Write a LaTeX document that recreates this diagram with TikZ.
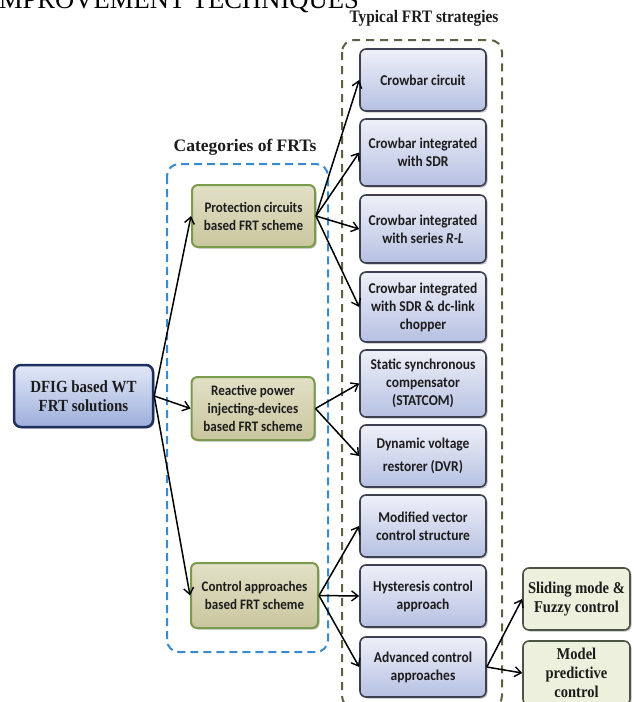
\documentclass[tikz,border=0pt]{standalone}
\usepackage{fontspec}
\usetikzlibrary{arrows.meta,shadows,calc}
\newfontfamily\calfam[FakeStretch=0.9]{Carlito}
\newfontfamily\tnrfam[FakeStretch=0.88]{Liberation Serif}
\newfontfamily\tnrplain{Liberation Serif}
\definecolor{rtop}{HTML}{EEF0F8}
\definecolor{rbot}{HTML}{B6C0E2}
\definecolor{rline}{HTML}{3E4052}
\definecolor{dtop}{HTML}{E2E8F7}
\definecolor{dbot}{HTML}{9DAEDB}
\definecolor{dline}{HTML}{1E2F5E}
\definecolor{ktop}{HTML}{E2E0C6}
\definecolor{kbot}{HTML}{C9C69E}
\definecolor{kline}{HTML}{7A9A4C}
\definecolor{gfill}{HTML}{EDF0DC}
\definecolor{gline}{HTML}{4E5444}
\definecolor{bdash}{HTML}{3A8AD0}
\definecolor{gdash}{HTML}{5C6242}
\definecolor{txt}{HTML}{1C1C1C}
\begin{document}
\begin{tikzpicture}[x=1pt,y=-1pt,
  shad/.style={drop shadow={shadow xshift=1.5pt,shadow yshift=-1.5pt,fill=black,opacity=0.25}},
  rbox/.style={shad,draw=rline,line width=1.6pt,rounded corners=6pt,top color=rtop,bottom color=rbot,
    minimum width=126pt,align=center,text=txt,inner sep=2pt,
    font=\calfam\bfseries\fontsize{15}{18}\selectfont},
  kbox/.style={shad,draw=kline,line width=2pt,rounded corners=6pt,top color=ktop,bottom color=kbot,
    minimum width=123pt,align=center,text=txt,inner sep=2pt,
    font=\calfam\bfseries\fontsize{14.5}{18}\selectfont},
  dbox/.style={shad,draw=dline,line width=2.5pt,rounded corners=7pt,top color=dtop,bottom color=dbot,
    minimum width=139pt,minimum height=62pt,align=center,text=txt,inner sep=2pt,
    font=\tnrfam\bfseries\fontsize{17}{19}\selectfont},
  gbox/.style={shad,draw=gline,line width=1.6pt,rounded corners=6pt,fill=gfill,
    minimum width=107pt,align=center,text=txt,inner sep=2pt,
    font=\tnrfam\bfseries\fontsize{16.5}{19}\selectfont},
  ttl/.style={font=\tnrfam\bfseries\fontsize{17.5}{20}\selectfont,text=txt,inner sep=0pt},
  arr/.style={-{Straight Barb[length=6.5pt,width=10pt,line width=1.4pt]},line width=1.5pt,black},
  bluedash/.style={draw=bdash,line width=2pt,dash pattern=on 8pt off 5pt,rounded corners=12pt},
  greendash/.style={draw=gdash,line width=2pt,dash pattern=on 8pt off 6pt,rounded corners=12pt}
]
\clip (0,0) rectangle (634,702);
\fill[white] (0,0) rectangle (634,702);

% cropped heading
\node[anchor=base west,inner sep=0pt,font=\tnrplain\fontsize{26.6}{30}\selectfont] (hdr) at (-10,8) {IMPROVEMENT TECHNIQUES};

% containers
\draw[bluedash] (167,164) rectangle (328,652);
\draw[greendash] (342,40) rectangle (502,708);
\node[ttl] (ttlR) at (424,18) {Typical FRT strategies};
\node[ttl,font=\tnrplain\bfseries\fontsize{17.5}{20}\selectfont] (ttlC) at (245,147) {Categories of FRTs};

% root
\node[dbox] (dfig) at (83.5,396) {DFIG based WT\\FRT solutions};

% categories
\node[kbox,minimum height=62pt] (pc) at (253.5,216) {Protection circuits\\based FRT scheme};
\node[kbox,minimum height=63pt] (rp) at (253,408.5) {Reactive power\\injecting-devices\\based FRT scheme};
\node[kbox,minimum width=127pt,minimum height=65pt] (ca) at (254.5,595.5) {Control approaches\\based FRT scheme};

% strategies
\node[rbox,minimum height=62pt] (c1) at (423,80) {Crowbar circuit};
\node[rbox,minimum height=67pt] (c2) at (423,152.5) {Crowbar integrated\\with SDR};
\node[rbox,minimum height=68pt] (c3) at (423,229) {Crowbar integrated\\with series \textit{R-L}};
\node[rbox,minimum height=70pt] (c4) at (423,307) {Crowbar integrated\\with SDR \& dc-link\\chopper};
\node[rbox,minimum height=67pt] (s1) at (423,383.5) {Static synchronous\\compensator\\(STATCOM)};
\node[rbox,minimum height=62pt,font=\calfam\bfseries\fontsize{15}{23}\selectfont] (s2) at (423,456) {Dynamic voltage\\restorer (DVR)};
\node[rbox,minimum height=62pt] (m1) at (423,526) {Modified vector\\control structure};
\node[rbox,minimum height=62pt] (m2) at (423,596) {Hysteresis control\\approach};
\node[rbox,minimum height=60pt] (m3) at (423,667) {Advanced control\\approaches};

% advanced
\node[gbox,minimum height=62pt] (sm) at (576.5,599) {Sliding mode \&\\Fuzzy control};
\node[gbox,minimum height=64pt] (mp) at (576.5,673) {Model\\predictive\\control};

% connectors
\draw[arr] (dfig.east) -- (pc.west);
\draw[arr] (dfig.east) -- (rp.west);
\draw[arr] (dfig.east) -- (ca.west);
\foreach \t in {c1,c2,c3,c4} \draw[arr] (pc.east) -- (\t.west);
\foreach \t in {s1,s2} \draw[arr] (rp.east) -- (\t.west);
\foreach \t in {m1,m2,m3} \draw[arr] (ca.east) -- (\t.west);
\draw[arr] (m3.east) -- (sm.west);
\draw[arr] (m3.east) -- (mp.west);
\end{tikzpicture}
\end{document}
